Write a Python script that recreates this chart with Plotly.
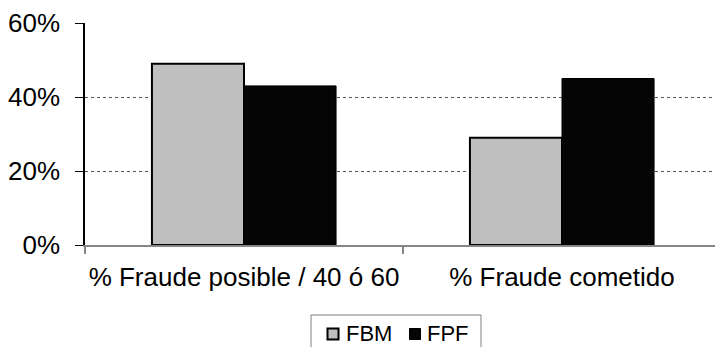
import plotly.graph_objects as go

# Categories and series values (shares, 0-1)
categories = ["% Fraude posible / 40 ó 60", "% Fraude cometido"]
fbm_values = [0.49, 0.29]
fpf_values = [0.43, 0.45]
y_tick_vals = [0, 0.2, 0.4, 0.6]
y_tick_text = ["0%", "20%", "40%", "60%"]
grid_vals = [0.2, 0.4]

FONT = "Liberation Sans, Arial, sans-serif"
FBM_FILL, FPF_FILL = "#BFBFBF", "#050505"

fig = go.Figure()
fig.add_trace(go.Bar(
    name="FBM", x=categories, y=fbm_values, showlegend=False,
    marker=dict(color=FBM_FILL, line=dict(color="#000000", width=2)),
))
fig.add_trace(go.Bar(
    name="FPF", x=categories, y=fpf_values, showlegend=False,
    marker=dict(color=FPF_FILL, line=dict(color="#000000", width=1)),
))
# invisible helper trace so the overlay axis (dotted grid only) is drawn
fig.add_trace(go.Scatter(x=categories, y=[None, None], yaxis="y2",
                         showlegend=False, hoverinfo="skip"))

W, H = 715, 347
left, top, bottom = 85, 23, 102
plot_w = W - left
plot_h = H - top - bottom
cat_px = 318.0
x_hi = -0.5 + plot_w / cat_px


def px(x):
    return (x - left) / plot_w


def py(y):
    return (H - bottom - y) / plot_h


# Legend box below the plot, drawn as shapes + text
shapes = [
    dict(type="rect", xref="paper", yref="paper",
         x0=px(311), x1=px(481), y0=py(360), y1=py(315),
         line=dict(color="#808080", width=1), fillcolor="white", layer="above"),
    dict(type="rect", xref="paper", yref="paper",
         x0=px(327.5), x1=px(338.5), y0=py(339.5), y1=py(328.5),
         line=dict(color="#000000", width=2), fillcolor=FBM_FILL, layer="above"),
    dict(type="rect", xref="paper", yref="paper",
         x0=px(409.5), x1=px(420.5), y0=py(339.5), y1=py(328.5),
         line=dict(color="#000000", width=1), fillcolor=FPF_FILL, layer="above"),
]
annotations = [
    dict(text="FBM", xref="paper", yref="paper", x=px(344), y=py(333),
         xanchor="left", yanchor="middle", showarrow=False,
         font=dict(family=FONT, size=22, color="#000000")),
    dict(text="FPF", xref="paper", yref="paper", x=px(425), y=py(333),
         xanchor="left", yanchor="middle", showarrow=False,
         font=dict(family=FONT, size=22, color="#000000")),
]

fig.update_layout(
    width=W, height=H,
    margin=dict(l=left, r=0, t=top, b=bottom, pad=0, autoexpand=False),
    paper_bgcolor="white", plot_bgcolor="white",
    font=dict(family=FONT, size=26, color="#000000"),
    barmode="group", bargap=0.421, bargroupgap=0,
    showlegend=False,
    shapes=shapes, annotations=annotations,
    xaxis=dict(
        range=[-0.5, x_hi], showgrid=False, zeroline=False,
        showline=True, linecolor="#868686", linewidth=2,
        ticks="outside", tickson="boundaries", ticklen=7,
        tickcolor="#868686", tickwidth=2,
        tickangle=0, ticklabelstandoff=8,
        tickfont=dict(family=FONT, size=26, color="#000000"),
    ),
    yaxis=dict(
        range=[0, 0.6], tickvals=y_tick_vals, ticktext=y_tick_text,
        showgrid=False, zeroline=False,
        showline=True, linecolor="#000000", linewidth=1.5,
        ticks="outside", ticklen=8, tickcolor="#000000", tickwidth=1,
        ticklabelstandoff=10,
        tickfont=dict(family=FONT, size=26, color="#000000"),
    ),
    yaxis2=dict(
        overlaying="y", range=[0, 0.6], tickvals=grid_vals,
        showticklabels=False, ticks="", showline=False, zeroline=False,
        showgrid=True, gridcolor="#555555", gridwidth=1, griddash="dot",
        layer="below traces",
    ),
)

fig.write_html("out.html")
